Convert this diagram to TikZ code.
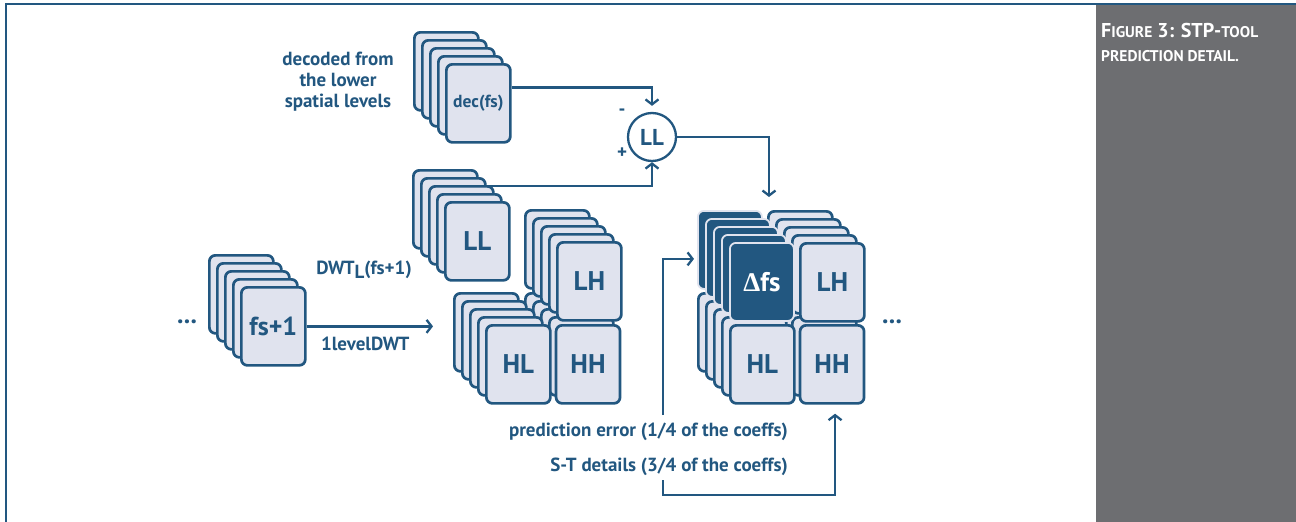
\documentclass[tikz,border=0pt]{standalone}
\usepackage{fontspec}
\setmainfont{PT Sans}
\newfontfamily\deltafont{Liberation Serif}
\usepackage{xcolor}
\usetikzlibrary{positioning,arrows.meta,backgrounds,calc}
\definecolor{stpblue}{HTML}{225780}
\definecolor{stpfill}{HTML}{E0E3EE}
\definecolor{stpgray}{HTML}{6D6E71}
\newcommand{\smc}[1]{{\fontsize{15.5}{17}\selectfont #1}}
\tikzstyle{card} = [draw=stpblue, fill=stpfill, line width=2.7pt, rounded corners=6pt, minimum width=64pt, minimum height=78pt, inner sep=0pt, anchor=north west, text=stpblue, font=\bfseries\fontsize{27}{27}\selectfont]
\tikzstyle{darkcard} = [card, fill=stpblue, draw=stpfill, line width=1.8pt, text=white]
\tikzstyle{arrow} = [line width=2.3pt, ->, draw=stpblue]

\begin{document}
\begin{tikzpicture}[x=1pt, y=-1pt, >={Straight Barb[length=5pt,width=13pt]},
    sumnode/.style={circle, draw=stpblue, line width=2.3pt, fill=white, minimum size=48pt, inner sep=0pt, text=stpblue, font=\bfseries\fontsize{23}{23}\selectfont},
    note/.style={inner sep=0pt, align=center, text=stpblue, font=\bfseries\fontsize{19}{21}\selectfont},
    capline/.style={anchor=base west, inner sep=0pt, text=white, font=\bfseries\fontsize{20}{22}\selectfont}]

    % Frame and caption panel
    \useasboundingbox (0,0) rectangle (1296,522);
    \fill[stpgray] (1096,5) rectangle (1296,522);
    \draw[stpblue, line width=1.8pt] (6,522) -- (6,4) -- (1296,4);
    \node[capline] (cap1) at (1101,37) {F\smc{IGURE} 3: STP-\smc{TOOL}};
    \node[capline] (cap2) at ([yshift=-24pt]cap1.base west) {\smc{PREDICTION DETAIL.}};

    % Frame stacks, back to front
    \foreach \k in {4,...,1} {
      \node[card] (fs\k) at (240-8*\k, 286-8*\k) {};
      \node[card] (dec\k) at (445-8*\k, 63-8*\k) {};
      \node[card] (ll\k) at (444-8*\k, 201-8*\k) {};
      \node[card] (mlh\k) at (556-8*\k, 241-8*\k) {};
      \node[card] (mhl\k) at (485-8*\k, 324-8*\k) {};
      \node[card] (mhh\k) at (556-8*\k, 324-8*\k) {};
      \node[card] (rlh\k) at (799-8*\k, 242-8*\k) {};
      \node[card] (rhl\k) at (729-8*\k, 324-8*\k) {};
      \node[card] (rhh\k) at (799-8*\k, 324-8*\k) {};
      \node[darkcard] (rdf\k) at (729-8*\k, 242-8*\k) {};
    }

    % Front frames
    \node[card, font=\bfseries\fontsize{26}{26}\selectfont] (fs0) at (240,286) {fs+1};
    \node[card, font=\bfseries\fontsize{17.5}{17.5}\selectfont] (dec0) at (445,63) {dec(fs)};
    \node[card] (ll0) at (444,201) {LL};
    \node[card] (mlh0) at (556,241) {LH};
    \node[card] (mhl0) at (485,324) {HL};
    \node[card] (mhh0) [right=3pt of mhl0] {HH};
    \node[card] (rlh0) at (799,242) {LH};
    \node[card] (rhl0) at (729,324) {HL};
    \node[card] (rhh0) [right=3pt of rhl0] {HH};
    \node[darkcard] (rdf0) at (729,242) {{\deltafont\symbol{"0394}}fs};

    % Subtraction and labels
    \node[sumnode] (sub) at (652,137) {LL};
    \node[note] (minus) at (622,112) {-};
    \node[note] (plus) at (622,153) {+};
    \node[note] (decnote) at (338,82) {decoded from\\the lower\\spatial levels};
    \node[note] (dwt) at (364,270) {DWT\raisebox{-4pt}{L}(fs+1)};
    \node[note, anchor=east] (pe) at (788,432) {prediction error (1/4 of the coeffs)};
    \node[note, anchor=east] (st) at (788,467) {S-T details (3/4 of the coeffs)};
    \node[note, font=\bfseries\fontsize{26}{26}\selectfont] (dotsl) at (187,322) {...};
    \node[note, font=\bfseries\fontsize{26}{26}\selectfont] (dotsr) at (892,322) {...};
    \coordinate (pestart) at (663,415);
    \coordinate (ststart) at (663,480);

    % Connections
    \begin{scope}[on background layer]
    \draw[arrow, shorten >=6pt] ([yshift=16pt]dec0.east) -| (sub.north);
    \draw[arrow] ([yshift=-9pt]ll3.north east) -| (sub.south);
    \draw[arrow] (sub.east) -| ([xshift=2pt,yshift=13pt]rlh4.north west);
    \draw[arrow, shorten >=20pt] (fs0.east) -- (fs0.east -| mhl4.west)
        node[note, pos=0.4, below=9pt] (lvl) {1levelDWT};
    \draw[arrow, shorten >=3pt] (pestart) |- ([yshift=-9pt]rdf4.west);
    \draw[arrow, shorten >=9pt] (ststart) -- ++(0,15) -| ([xshift=3pt]rhh0.south);
    \end{scope}
\end{tikzpicture}
\end{document}
